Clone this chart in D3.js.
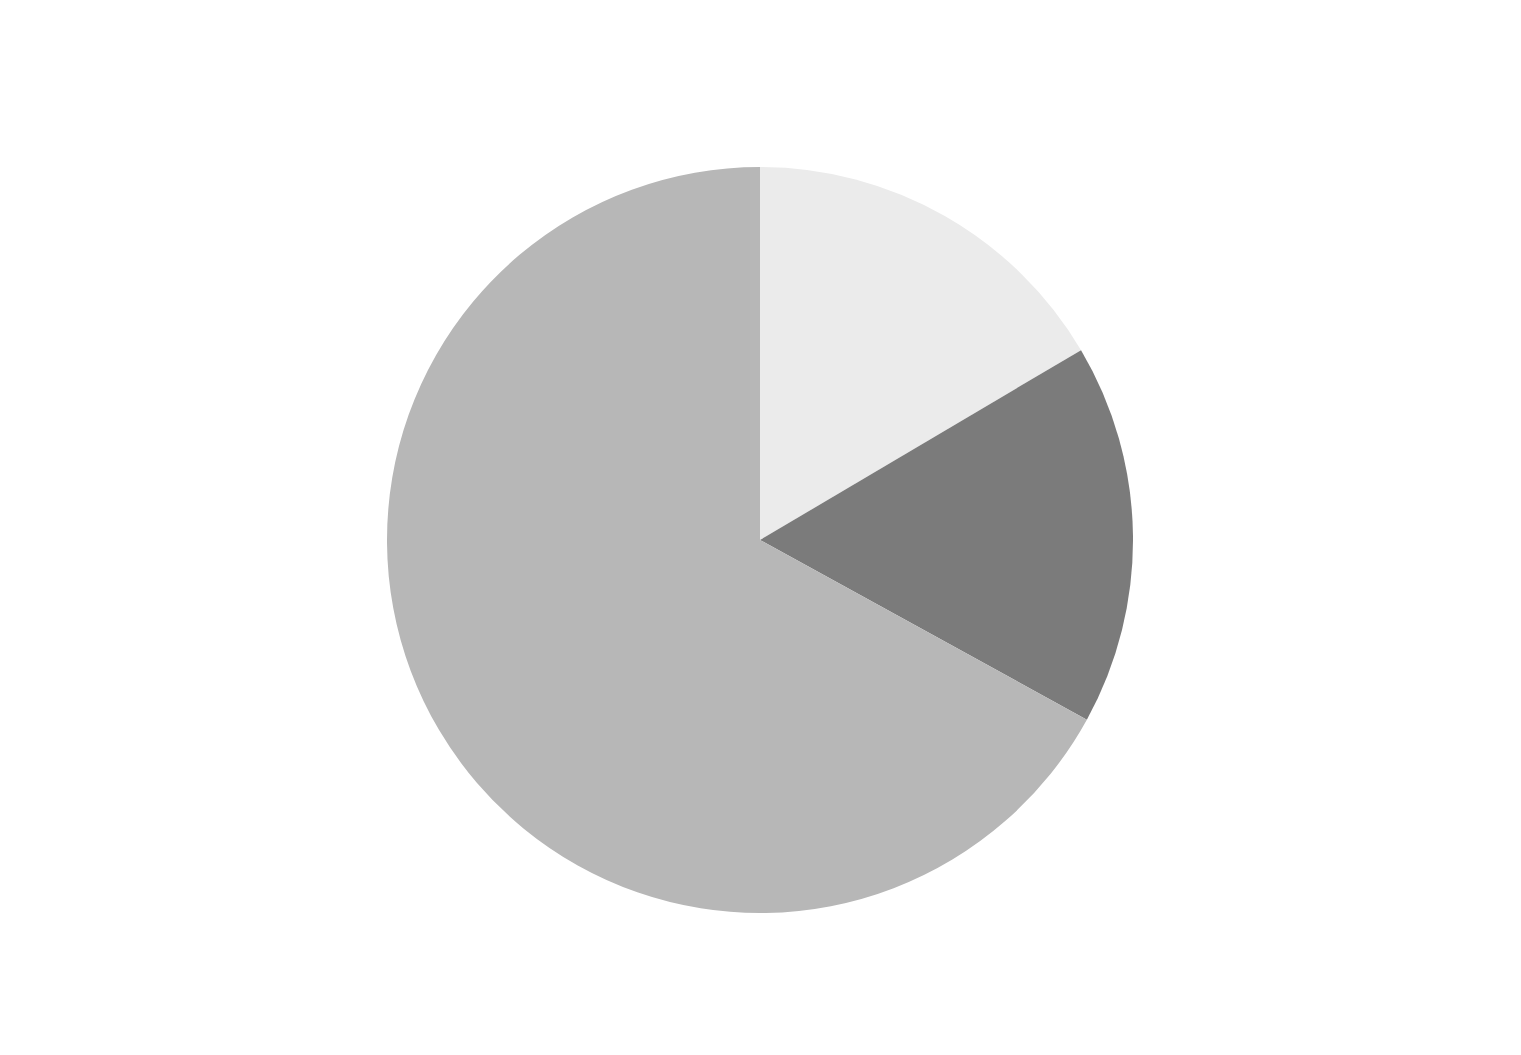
<!DOCTYPE html>
<html>
<head>
<meta charset="utf-8">
<script src="https://cdn.jsdelivr.net/npm/d3@7"></script>
<style>
  html, body { margin: 0; padding: 0; background: #fff; }
</style>
</head>
<body>
<svg id="chart"></svg>
<script>
// slice data, clockwise from 12 o'clock
const categories = ["A", "B", "C"];
const values = [16.5, 16.5, 67];
const colors = ["#ebebeb", "#7b7b7b", "#b7b7b7"];

const width = 1521;
const height = 1055;
const cx = 760;
const cy = 540;
const radius = 373;

const svg = d3.select("#chart").attr("width", width).attr("height", height);

const pie = d3.pie().sort(null).value((d) => d.value);
const arc = d3.arc().innerRadius(0).outerRadius(radius);

const slices = categories.map((c, i) => ({ name: c, value: values[i], color: colors[i] }));

svg
  .append("g")
  .attr("transform", "translate(" + cx + "," + cy + ")")
  .selectAll("path")
  .data(pie(slices))
  .enter()
  .append("path")
  .attr("d", arc)
  .attr("fill", (d) => d.data.color);
</script>
</body>
</html>
